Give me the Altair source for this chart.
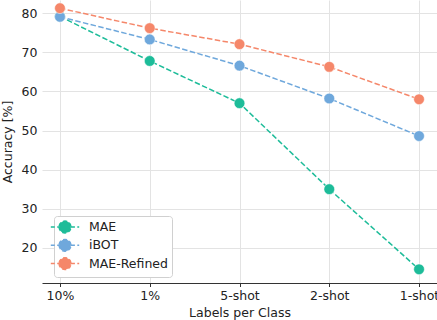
import altair as alt
import pandas as pd

labels = ["10%", "1%", "5-shot", "2-shot", "1-shot"]
mae = [79.2, 67.8, 57.0, 35.0, 14.5]
ibot = [79.1, 73.3, 66.6, 58.2, 48.6]
mae_refined = [81.3, 76.2, 72.1, 66.3, 58.0]
methods = ["MAE", "iBOT", "MAE-Refined"]
colors = ["#1DBC99", "#6FA8DC", "#F5876A"]

rows = []
for m, vals in zip(methods, [mae, ibot, mae_refined]):
    for lab, v in zip(labels, vals):
        rows.append({"Labels per Class": lab, "Accuracy": v, "Method": m})
df = pd.DataFrame(rows)

font = "DejaVu Sans"
sym_path = ("M-2.4,0L-1,0M1,0L2.4,0"
            "M-1,0A1,1 0 1,0 1,0A1,1 0 1,0 -1,0Z")

x = alt.X("Labels per Class:N", sort=labels,
          scale=alt.Scale(type="point", padding=0.2),
          axis=alt.Axis(title="Labels per Class", labelAngle=0, grid=True,
                        gridColor="#e3e3e3", gridWidth=1, tickSize=3.5,
                        tickColor="#333333", domainColor="#333333",
                        domainWidth=1.2, labelPadding=3, titlePadding=4))
y = alt.Y("Accuracy:Q", scale=alt.Scale(domain=[11, 83.4], nice=False, zero=False),
          axis=alt.Axis(title="Accuracy [%]", values=[20, 30, 40, 50, 60, 70, 80],
                        grid=True, gridColor="#e3e3e3", gridWidth=1,
                        ticks=False, domain=False, labelPadding=5, titlePadding=7))
color = alt.Color("Method:N", sort=methods,
                  scale=alt.Scale(domain=methods, range=colors),
                  legend=alt.Legend(title=None, orient="none", legendX=12, legendY=216,
                                    symbolType=sym_path, symbolSize=140,
                                    symbolStrokeWidth=1.5, symbolDash=[4, 2.4],
                                    labelFontSize=12.5, labelFont=font,
                                    labelColor="#222222", padding=4,
                                    strokeColor="#d0d0d0", fillColor="white",
                                    cornerRadius=3, rowPadding=0.3, labelOffset=17))

base = alt.Chart(df)
lines = base.mark_line(strokeWidth=1.5, strokeDash=[5.5, 2.4]).encode(
    x=x, y=y, color=color, detail="Method:N")
points = base.mark_point(filled=True, size=115, opacity=1, stroke="white",
                         strokeWidth=0.5).encode(
    x=x, y=y, color=color, fill=alt.Fill("Method:N", sort=methods,
                                         scale=alt.Scale(domain=methods, range=colors),
                                         legend=None))

chart = alt.layer(lines, points).properties(
    width=395, height=283,
    autosize=alt.AutoSizeParams(type="none"),
    padding={"left": 42, "top": 0, "right": 0, "bottom": 37},
).configure_view(stroke=None).configure_axis(
    labelFont=font, titleFont=font, labelFontSize=12.5, titleFontSize=12.5,
    labelColor="#222222", titleColor="#222222", titleFontWeight="normal"
)

chart.save("out.html", embed_options={"renderer": "svg", "actions": False})
